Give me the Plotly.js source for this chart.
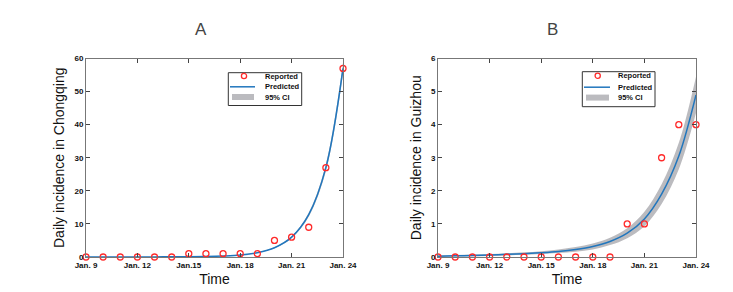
<!DOCTYPE html>
<html><head><meta charset="utf-8">
<script src="https://cdn.plot.ly/plotly-3.0.1.min.js"></script>
<style>html,body{margin:0;padding:0;background:#fff}</style>
</head><body><div id="chart" style="width:733px;height:292px"></div>
<script>
// Days since Jan. 9 (0 = Jan. 9 ... 15 = Jan. 24)
const days = [0,1,2,3,4,5,6,7,8,9,10,11,12,13,14,15];
const tickVals = [0,3,6,9,12,15];
const tickTextA = ["Jan. 9","Jan. 12","Jan.15","Jan. 18","Jan. 21","Jan. 24"];
const tickTextB = ["Jan. 9","Jan. 12","Jan. 15","Jan. 18","Jan. 21","Jan. 24"];
const legendLabels = ["Reported","Predicted","95% CI"];

// Panel A: Chongqing
const reportedA  = [0,0,0,0,0,0,1,1,1,1,1,5,6,9,27,57];
const predictedA = [0.003,0.005,0.01,0.015,0.03,0.05,0.08,0.15,0.3,0.6,1.3,2.8,6,12.8,27,57];
const lowerA     = [0.002,0.004,0.008,0.012,0.025,0.045,0.07,0.14,0.28,0.56,1.22,2.65,5.7,12.2,25.9,55.3];
const upperA     = [0.004,0.006,0.012,0.018,0.035,0.055,0.09,0.16,0.32,0.64,1.38,2.95,6.3,13.4,28.1,58.7];

// Panel B: Guizhou
const reportedB  = [0,0,0,0,0,0,0,0,0,0,0,1,1,3,4,4];
const predictedB = [0.025,0.035,0.045,0.06,0.08,0.1,0.13,0.17,0.23,0.32,0.47,0.72,1.15,1.9,3.05,4.9];
const lowerB     = [0.005,0.012,0.02,0.03,0.045,0.065,0.09,0.12,0.16,0.23,0.36,0.57,0.93,1.6,2.65,4.35];
const upperB     = [0.045,0.058,0.072,0.09,0.115,0.14,0.175,0.225,0.3,0.41,0.58,0.87,1.37,2.2,3.45,5.45];
</script>
<script>
const W = 733, H = 292;
const FONT = 'Liberation Sans, Arial, sans-serif';
const red = '#ff2a2a', blue = '#2176bd', gray = 'rgba(170,170,175,0.8)';

function traces(rep, pred, lo, up, xa, ya) {
  return [
    {x: days, y: lo, mode: 'lines', line: {width: 0, shape: 'spline'}, xaxis: xa, yaxis: ya,
     showlegend: false, hoverinfo: 'skip'},
    {x: days, y: up, mode: 'lines', line: {width: 0, shape: 'spline'}, fill: 'tonexty',
     fillcolor: gray, name: legendLabels[2], xaxis: xa, yaxis: ya, showlegend: false},
    {x: days, y: pred, mode: 'lines', line: {color: blue, width: 1.5, shape: 'spline'},
     name: legendLabels[1], xaxis: xa, yaxis: ya, showlegend: false},
    {x: days, y: rep, mode: 'markers', cliponaxis: false,
     marker: {symbol: 'circle-open', color: red, size: 6, line: {width: 1.3, color: red}},
     name: legendLabels[0], xaxis: xa, yaxis: ya, showlegend: false}
  ];
}
const data = traces(reportedA, predictedA, lowerA, upperA, 'x', 'y')
  .concat(traces(reportedB, predictedB, lowerB, upperB, 'x2', 'y2'));

const tickFont = {family: FONT, size: 8, color: '#111', weight: 'bold'};
function xax(dom, txt) {
  return {domain: dom, range: [0, 15], tickvals: tickVals, ticktext: txt, ticks: 'inside',
    ticklen: 4, tickcolor: '#444', showline: true, linecolor: '#777', linewidth: 1, mirror: 'ticks',
    showgrid: false, zeroline: false, tickfont: tickFont,
    title: {text: 'Time', font: {family: FONT, size: 14, color: '#111'}, standoff: 5}};
}
function yax(rng, dtick, anchor, txt) {
  return {domain: [(H - 257) / H, (H - 58.5) / H], range: rng, dtick: dtick, ticks: 'inside',
    ticklen: 4, tickcolor: '#444', showline: true, linecolor: '#777', linewidth: 1, mirror: 'ticks',
    showgrid: false, zeroline: false, tickfont: tickFont, anchor: anchor,
    title: {text: txt, font: {family: FONT, size: 14, color: '#111'}, standoff: 6}};
}

// hand-built compact legend boxes (pixel positions converted to paper coords)
const px = v => v / W, py = v => (H - v) / H;
const shapes = [], annotations = [];
function legendBox(l, t, r, b, markX, lineL, lineR, textL, rows) {
  shapes.push({type: 'rect', xref: 'paper', yref: 'paper', x0: px(l), x1: px(r), y0: py(b), y1: py(t),
    line: {color: '#333', width: 1}, fillcolor: '#fff', layer: 'above'});
  shapes.push({type: 'circle', xref: 'paper', yref: 'paper', x0: px(markX - 2.6), x1: px(markX + 2.6),
    y0: py(rows[0] + 2.6), y1: py(rows[0] - 2.6), line: {color: red, width: 1.3}, layer: 'above'});
  shapes.push({type: 'line', xref: 'paper', yref: 'paper', x0: px(lineL), x1: px(lineR),
    y0: py(rows[1]), y1: py(rows[1]), line: {color: blue, width: 1.5}, layer: 'above'});
  shapes.push({type: 'rect', xref: 'paper', yref: 'paper', x0: px(lineL + 2), x1: px(lineR - 1),
    y0: py(rows[2] + 3), y1: py(rows[2] - 3), line: {width: 0}, fillcolor: gray, layer: 'above'});
  legendLabels.forEach((t, i) => annotations.push({text: t, xref: 'paper', yref: 'paper',
    x: px(textL), y: py(rows[i]), xanchor: 'left', yanchor: 'middle', showarrow: false,
    font: {family: FONT, size: 7.5, color: '#111', weight: 'bold'}}));
}
legendBox(228.3, 72.7, 301.7, 105.5, 244, 230, 255, 262.5, [76, 86.8, 97]);
legendBox(582.3, 71.7, 655, 106.7, 597.7, 584, 610, 615.7, [75.8, 87.2, 97.6]);

annotations.push(
  {text: 'A', x: px(200.5), y: py(30), xref: 'paper', yref: 'paper', showarrow: false,
   xanchor: 'center', yanchor: 'middle', font: {family: FONT, size: 17, color: '#444'}},
  {text: 'B', x: px(552.5), y: py(30), xref: 'paper', yref: 'paper', showarrow: false,
   xanchor: 'center', yanchor: 'middle', font: {family: FONT, size: 17, color: '#444'}});

const layout = {
  width: W, height: H, margin: {l: 0, r: 0, t: 0, b: 0},
  paper_bgcolor: '#fff', plot_bgcolor: '#fff', showlegend: false,
  xaxis: xax([86 / W, 343 / W], tickTextA),
  yaxis: yax([0, 60], 10, 'x', 'Daily incidence in Chongqing'),
  xaxis2: Object.assign(xax([438 / W, 696 / W], tickTextB), {anchor: 'y2'}),
  yaxis2: yax([0, 6], 1, 'x2', 'Daily incidence in Guizhou'),
  shapes: shapes, annotations: annotations
};
Plotly.newPlot('chart', data, layout, {staticPlot: true});
</script>
</body></html>
